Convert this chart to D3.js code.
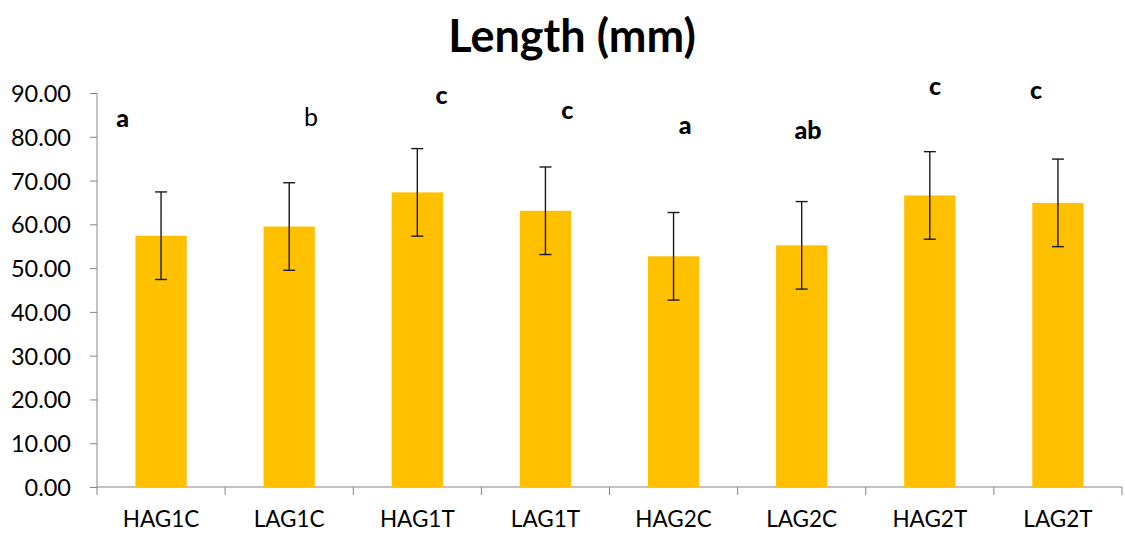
<!DOCTYPE html>
<meta charset="utf-8">
<style>
body { margin: 0; background: #fff; }
svg text { font-family: Lato, "Open Sans", sans-serif; fill: #000; }
.axis path, .axis line { stroke: #868686; }
</style>
<svg width="1125" height="533"></svg>
<script src="https://cdn.jsdelivr.net/npm/d3@7"></script>
<script>

var categories = ["HAG1C", "LAG1C", "HAG1T", "LAG1T", "HAG2C", "LAG2C", "HAG2T", "LAG2T"];
var lengths = [57.4, 59.5, 67.3, 63.1, 52.7, 55.2, 66.6, 64.9];
var errors = [10, 10, 10, 10, 10, 10, 10, 10];
var letters = ["a", "b", "c", "c", "a", "ab", "c", "c"];
var letterBold = [true, false, true, true, true, true, true, true];
var letterHeight = [82.3, 82.5, 87.5, 84.0, 80.7, 79.5, 89.5, 88.6];
var letterShift = [-0.30, 0.17, 0.19, 0.17, 0.09, 0.05, 0.04, -0.17];
var yTicks = [0, 10, 20, 30, 40, 50, 60, 70, 80, 90];

var svg = d3.select("svg"),
    margin = {top: 93, right: 3, bottom: 46, left: 97},
    width = +svg.attr("width") - margin.left - margin.right,
    height = +svg.attr("height") - margin.top - margin.bottom;

var x = d3.scaleBand().domain(categories).range([0, width]);
var y = d3.scaleLinear().domain([0, 90]).range([height, 0]);

var g = svg.append("g").attr("transform", "translate(" + margin.left + "," + margin.top + ")");

svg.append("text")
    .attr("x", 572)
    .attr("y", 52)
    .attr("text-anchor", "middle")
    .style("font-size", "45px")
    .style("font-weight", "bold")
    .text("Length (mm)");

// y axis
var yAxis = g.append("g")
    .attr("class", "axis")
    .call(d3.axisLeft(y).tickValues(yTicks).tickSize(7).tickPadding(19)
        .tickFormat(d3.format(".2f")));
yAxis.select(".domain").attr("d", "M0," + y(90) + "V" + y(0));
yAxis.selectAll("text").style("font-size", "23.5px").attr("dy", "0.36em");

// x axis
var xAxis = g.append("g")
    .attr("class", "axis")
    .attr("transform", "translate(0," + height + ")")
    .call(d3.axisBottom(x).tickSize(0).tickPadding(24));
xAxis.select(".domain").attr("d", "M0,0H" + width);
xAxis.selectAll("text").style("font-size", "22.5px");
xAxis.selectAll(".bound")
    .data(d3.range(categories.length + 1))
  .enter().append("line")
    .attr("x1", function(i) { return i * x.step(); })
    .attr("x2", function(i) { return i * x.step(); })
    .attr("y1", 0)
    .attr("y2", 8)
    .attr("stroke", "#868686");

var barW = x.bandwidth() * 0.4;

g.selectAll(".bar")
    .data(lengths)
  .enter().append("rect")
    .attr("x", function(d, i) { return x(categories[i]) + (x.bandwidth() - barW) / 2; })
    .attr("y", function(d) { return y(d); })
    .attr("width", barW)
    .attr("height", function(d) { return height - y(d); })
    .attr("fill", "#FFC000");

var err = g.selectAll(".err")
    .data(lengths)
  .enter().append("g")
    .attr("transform", function(d, i) { return "translate(" + (x(categories[i]) + x.bandwidth() / 2) + ",0)"; })
    .attr("stroke", "#1a1a1a")
    .attr("stroke-width", 1.4);

err.append("line")
    .attr("y1", function(d, i) { return y(d + errors[i]); })
    .attr("y2", function(d, i) { return y(d - errors[i]); });
err.append("line")
    .attr("x1", -6).attr("x2", 6)
    .attr("y1", function(d, i) { return y(d + errors[i]); })
    .attr("y2", function(d, i) { return y(d + errors[i]); });
err.append("line")
    .attr("x1", -6).attr("x2", 6)
    .attr("y1", function(d, i) { return y(d - errors[i]); })
    .attr("y2", function(d, i) { return y(d - errors[i]); });

g.selectAll(".letter")
    .data(letters)
  .enter().append("text")
    .attr("x", function(d, i) { return x(categories[i]) + x.bandwidth() * (0.5 + letterShift[i]); })
    .attr("y", function(d, i) { return y(letterHeight[i]); })
    .attr("text-anchor", "middle")
    .style("font-size", "25px")
    .style("font-weight", function(d, i) { return letterBold[i] ? "900" : "normal"; })
    .text(function(d) { return d; });

</script>
